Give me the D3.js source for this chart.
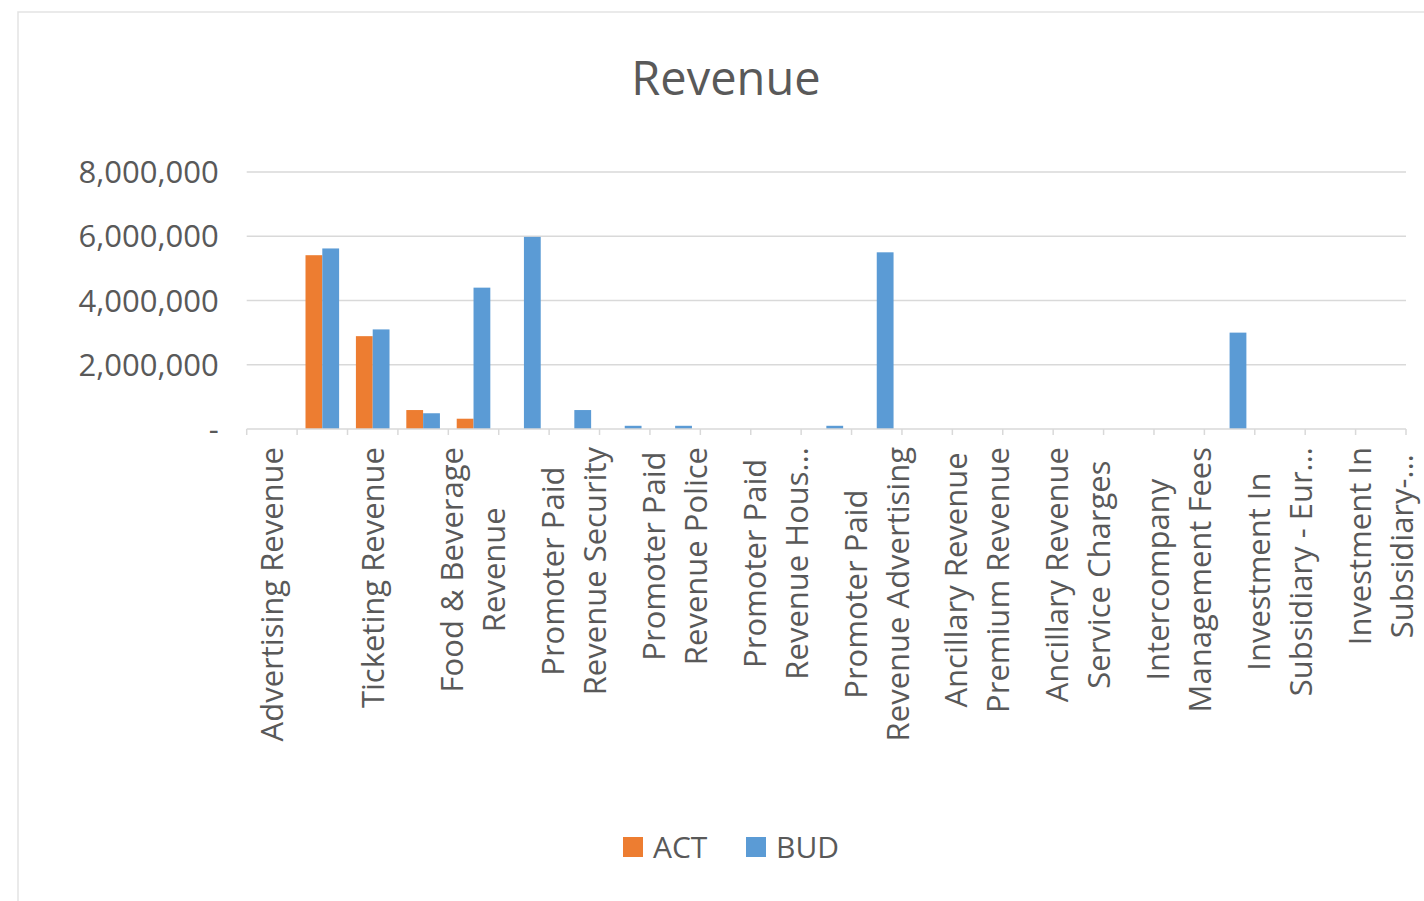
<!DOCTYPE html>
<html>
<head>
<meta charset="utf-8">
<script src="https://cdn.jsdelivr.net/npm/d3@7"></script>
<style>
  html, body { margin: 0; padding: 0; background: #fff; }
  svg { display: block; }
  text { font-family: "Open Sans", "Noto Sans", sans-serif; fill: #595959; }
</style>
</head>
<body>
<svg id="chart" width="1424" height="901"></svg>
<script>
// Revenue by account: actuals vs budget
const seriesNames = ["ACT", "BUD"];
const seriesColors = ["#ED7D31", "#5B9BD5"];

// One value per account line (23 lines); only every other line gets an axis label
const actValues = [0, 5410000, 2890000, 590000, 320000, 0, 0, 0, 0, 0, 0, 0,
                   0, 0, 0, 0, 0, 0, 0, 0, 0, 0, 0];
const budValues = [0, 5620000, 3100000, 490000, 4400000, 5980000, 590000, 100000, 100000, 0, 0, 100000,
                   5500000, 0, 0, 0, 0, 0, 0, 3000000, 0, 0, 0];

// Axis labels shown on lines 0, 2, 4, ... (wrapped lines separated by \n)
const categoryLabels = [
  "Advertising Revenue",
  "Ticketing Revenue",
  "Food & Beverage\nRevenue",
  "Promoter Paid\nRevenue Security",
  "Promoter Paid\nRevenue Police",
  "Promoter Paid\nRevenue Hous...",
  "Promoter Paid\nRevenue Advertising",
  "Ancillary Revenue\nPremium Revenue",
  "Ancillary Revenue\nService Charges",
  "Intercompany\nManagement Fees",
  "Investment In\nSubsidiary - Eur...",
  "Investment In\nSubsidiary-..."
];
const labelInterval = 2;

const yTicks = [0, 2000000, 4000000, 6000000, 8000000];

const svg = d3.select("#chart");
const W = 1424, H = 901;

svg.append("rect").attr("width", W).attr("height", H).attr("fill", "#fff");

// chart area outline
svg.append("rect")
  .attr("x", 18).attr("y", 12)
  .attr("width", 1440).attr("height", 1000)
  .attr("fill", "none")
  .attr("stroke", "#E3E3E3")
  .attr("stroke-width", 1.5);

const plot = { left: 246.7, right: 1406, top: 172, bottom: 429 };

const x = d3.scaleBand()
  .domain(d3.range(actValues.length))
  .range([plot.left, plot.right])
  .paddingInner(0).paddingOuter(0);

const xInner = d3.scaleBand()
  .domain(seriesNames)
  .range([0, x.bandwidth()])
  .paddingInner(0).paddingOuter(0.5);

const y = d3.scaleLinear()
  .domain([0, 8000000])
  .range([plot.bottom, plot.top]);

// title
svg.append("text")
  .attr("x", 726).attr("y", 95)
  .attr("text-anchor", "middle")
  .style("font-size", "47px")
  .text("Revenue");

// horizontal gridlines
svg.append("g")
  .selectAll("line")
  .data(yTicks.filter(d => d > 0))
  .join("line")
  .attr("x1", plot.left).attr("x2", plot.right)
  .attr("y1", d => y(d)).attr("y2", d => y(d))
  .attr("stroke", "#D9D9D9")
  .attr("stroke-width", 1.5);

// y axis labels
const yAxis = d3.axisLeft(y)
  .tickValues(yTicks)
  .tickSize(0)
  .tickPadding(0)
  .tickFormat(d => d === 0 ? "-" : d3.format(",")(d));

const yg = svg.append("g")
  .attr("transform", `translate(${plot.left - 28},0)`)
  .call(yAxis);
yg.select(".domain").remove();
yg.selectAll("text")
  .style("font-size", "31px")
  .attr("fill", "#595959")
  .attr("dy", "0.34em");

// bars
const rows = actValues.map((v, i) => ({ i, values: [v, budValues[i]] }));
const groups = svg.append("g")
  .selectAll("g")
  .data(rows)
  .join("g")
  .attr("transform", d => `translate(${x(d.i)},0)`);

groups.selectAll("rect")
  .data(d => d.values.map((v, k) => ({ key: seriesNames[k], v, color: seriesColors[k] })))
  .join("rect")
  .attr("x", d => xInner(d.key))
  .attr("width", xInner.bandwidth())
  .attr("y", d => y(d.v))
  .attr("height", d => y(0) - y(d.v))
  .attr("fill", d => d.color);

// category axis line and tick marks at band boundaries
const xAxisG = svg.append("g");
xAxisG.append("line")
  .attr("x1", plot.left).attr("x2", plot.right)
  .attr("y1", y(0)).attr("y2", y(0))
  .attr("stroke", "#D9D9D9").attr("stroke-width", 1.5);
const boundaries = d3.range(actValues.length + 1).map(i =>
  i < actValues.length ? x(i) : x(i - 1) + x.bandwidth());
xAxisG.selectAll("line.tick")
  .data(boundaries)
  .join("line")
  .attr("class", "tick")
  .attr("x1", d => d).attr("x2", d => d)
  .attr("y1", y(0)).attr("y2", y(0) + 6)
  .attr("stroke", "#D9D9D9").attr("stroke-width", 1.5);

// rotated, wrapped category labels
const labelTop = 447;
const lineStep = 42;
const labelG = svg.append("g");
categoryLabels.forEach((label, j) => {
  const idx = j * labelInterval;
  const cx = x(idx) + x.bandwidth() / 2;
  const lines = label.split("\n");
  const t = labelG.append("text")
    .attr("text-anchor", "middle")
    .style("font-size", "31px");
  lines.forEach((ln, k) => {
    t.append("tspan")
      .attr("x", 0)
      .attr("y", (k - (lines.length - 1) / 2) * lineStep)
      .attr("dy", "0.35em")
      .text(ln);
  });
  let maxLen = 0;
  t.selectAll("tspan").each(function () {
    maxLen = Math.max(maxLen, this.getComputedTextLength());
  });
  t.attr("transform", `translate(${cx},${labelTop + maxLen / 2}) rotate(-90)`);
});

// legend
const legend = svg.append("g");
const legendItems = [
  { name: seriesNames[0], color: seriesColors[0], sx: 623, tx: 653 },
  { name: seriesNames[1], color: seriesColors[1], sx: 746, tx: 776 }
];
legendItems.forEach(d => {
  legend.append("rect")
    .attr("x", d.sx).attr("y", 837)
    .attr("width", 20).attr("height", 20)
    .attr("fill", d.color);
  legend.append("text")
    .attr("x", d.tx).attr("y", 858)
    .style("font-size", "30px")
    .text(d.name);
});
</script>
</body>
</html>
